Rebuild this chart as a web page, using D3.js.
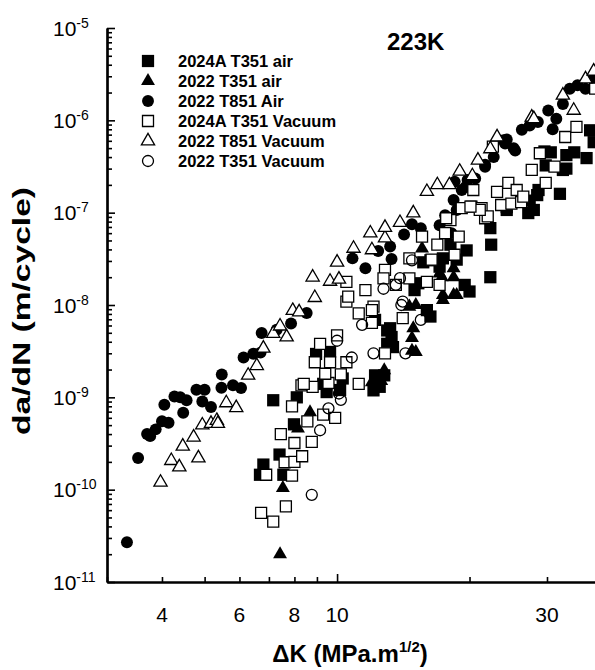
<!DOCTYPE html>
<html><head><meta charset="utf-8">
<script src="https://cdn.jsdelivr.net/npm/d3@7"></script>
<style>
html,body{margin:0;padding:0;background:#fff;}
svg{display:block;font-family:"Liberation Sans",Arial,sans-serif;}
</style></head>
<body>
<svg id="chart" width="595" height="670"></svg>
<script>
// ---- data: [ΔK (MPa.m^1/2), da/dN (m/cycle)] ----
const air2024T351 = [
 [7.16,9.3e-10],[8.1,1.0e-9],[7.98,5.1e-10],[6.8,1.87e-10],[6.68,1.45e-10],[7.4,2.4e-10],[7.55,1.45e-10],
 [8.96,2.95e-9],[9.64,3.1e-9],[9.3,1.4e-9],[9.47,1.14e-9],[10.3,1.6e-9],[10.16,1.2e-9],[12.2,1.73e-9],
 [12.1,1.19e-9],[12.8,1.73e-9],[12.5,1.3e-9],[13.0,5.3e-9],[13.0,3.8e-9],[13.2,5.6e-9],[13.3,4.5e-9],[13.4,3.5e-9],
 [12.2,6.9e-9],[16.0,8.8e-9],[16.3,7.5e-9],[15.0,1.45e-8],[15.3,1.72e-8],[16.3,3.05e-8],[17.1,2.6e-8],
 [17.4,3.2e-8],[15.7,2.9e-8],[18.1,4.5e-8],[18.7,3.1e-8],[19.7,3.9e-8],[19.5,1.65e-8],[20.0,1.4e-8],
 [22.4,4.5e-8],[22.3,2.0e-8],[22.3,6.8e-8],[24.3,1.07e-7],[28.0,1.07e-7],[27.2,9.9e-8],[28.5,1.55e-7],
 [32.1,1.6e-7],[30.6,4.5e-7],[29.6,4.6e-7],[29.8,3.25e-7],[33.2,4.2e-7],[34.6,4.5e-7],[36.9,3.9e-7],
 [33.2,3.0e-7],[37.6,7.8e-7],[38.3,5.8e-7],[32.6,2.9e-7],[28.7,1.76e-7],[27.4,1.35e-7],[24.3,1.15e-7]
];
const air2022T351 = [
 [7.42,2.0e-11],[7.53,1.04e-10],[8.68,6.9e-10],[8.15,4.6e-10],[12.0,1.46e-9],[12.6,1.5e-9],[12.8,1.96e-9],
 [12.2,1.5e-9],[14.9,5.6e-9],[14.8,4.4e-9],[14.8,3.2e-9],[15.1,3.1e-9],[14.6,9.6e-9],[15.1,1.0e-8],
 [17.4,1.13e-8],[18.4,1.28e-8],[18.4,2.0e-8],[18.4,2.5e-8],[15.6,4.1e-8],[17.1,2.2e-8],[17.3,2.0e-8],
 [17.4,1.28e-8],[18.7,1.28e-8]
];
const air2022T851 = [
 [3.33,2.7e-11],[3.53,2.2e-10],[3.70,4.0e-10],[3.76,3.8e-10],[3.87,4.5e-10],[4.0,5.5e-10],[4.14,5.3e-10],
 [4.05,8.3e-10],[4.27,1.02e-9],[4.40,1.0e-9],[4.55,9.3e-10],[4.47,6.8e-10],[4.79,1.21e-9],[5.0,1.21e-9],
 [4.94,9.0e-10],[5.17,7.85e-10],[5.47,1.77e-9],[5.46,1.27e-9],[5.80,1.35e-9],[6.05,1.26e-9],[6.13,2.7e-9],
 [6.45,2.97e-9],[6.7,3.05e-9],[6.74,4.97e-9],[7.29,5.4e-9],[7.86,6.3e-9],[8.53,8.2e-9],[10.84,3.2e-8],
 [11.6,2.5e-8],[12.4,3.85e-8],[13.2,4.3e-8],[13.3,3.15e-8],[14.2,5.8e-8],[14.8,7.5e-8],[15.5,6.8e-8],
 [17.1,7.3e-8],[18.2,6.0e-8],[17.6,9.4e-8],[18.4,1.37e-7],[18.7,1.07e-7],[19.2,1.76e-7],[18.5,2.17e-7],
 [19.8,2.26e-7],[19.6,1.9e-7],[20.6,2.35e-7],[21.7,3.3e-7],[21.7,3.15e-7],[22.7,4.0e-7],[23.9,6.1e-7],
 [24.3,6.2e-7],[24.1,5.6e-7],[25.2,5.0e-7],[25.4,4.7e-7],[26.3,7.9e-7],[27.4,8.8e-7],[28.6,9.6e-7],
 [30.2,1.28e-6],[31.5,1.04e-6],[30.9,8.0e-7],[32.6,1.5e-6],[33.8,2.2e-6],[35.2,2.4e-6],[36.7,2.2e-6],
 [38.3,2.8e-6]
];
const vac2024T351 = [
 [6.72,5.6e-11],[7.16,4.5e-11],[7.65,6.6e-11],[6.9,1.45e-10],[7.9,1.42e-10],[7.6,1.98e-10],[8.0,2.0e-10],
 [8.33,2.3e-10],[8.0,3.2e-10],[8.76,3.3e-10],[7.45,4.0e-10],[7.9,8.0e-10],[8.56,5.5e-10],[9.3,6.5e-10],
 [9.9,6.0e-10],[8.3,1.35e-9],[8.8,1.3e-9],[9.56,1.43e-9],[8.9,2.4e-9],[9.64,2.4e-9],[9.15,3.8e-9],
 [10.0,4.7e-9],[10.2,1.77e-9],[11.2,1.4e-9],[10.5,2.4e-9],[12.85,3.0e-9],[12.1,9.6e-9],[12.0,6.4e-9],
 [11.2,8.1e-9],[10.5,1.09e-8],[9.4,1.8e-9],[14.1,7.2e-9],[12.0,8.8e-9],[10.6,1.23e-8],[10.5,1.78e-8],
 [11.6,1.45e-8],[12.85,2.4e-8],[12.75,1.94e-8],[13.6,1.65e-8],[14.6,1.94e-8],[16.0,1.78e-8],[17.1,1.65e-8],
 [14.6,3.2e-8],[16.4,3.1e-8],[16.9,4.5e-8],[15.6,5.5e-8],[17.6,6.0e-8],[18.9,5.5e-8],[18.5,3.5e-8],
 [18.1,8.3e-8],[20.2,1.16e-7],[21.7,8.7e-8],[23.6,1.21e-7],[24.9,1.25e-7],[26.2,1.3e-7],[17.7,8.7e-8],
 [20.4,1.76e-7],[21.3,1.12e-7],[22.0,9.1e-8],[23.1,1.68e-7],[24.5,2.1e-7],[25.6,1.76e-7],[26.5,1.49e-7],
 [27.7,2.9e-7],[28.9,4.4e-7],[31.2,3.15e-7],[29.8,2.1e-7],[33.0,6.6e-7],[35.0,8.5e-7],[22.6,5.2e-7],
 [38.6,2.2e-6],[19.2,1.12e-7],[21.1,1.07e-7],[20.1,1.16e-7],[8.4,1.4e-9]
];
const vac2022T851 = [
 [3.97,1.2e-10],[4.2,2.06e-10],[4.38,1.76e-10],[4.46,2.95e-10],[4.84,2.2e-10],[4.72,3.7e-10],[4.94,5.0e-10],
 [5.17,5.2e-10],[5.33,5.6e-10],[5.36,5.2e-10],[5.6,8.7e-10],[5.9,7.7e-10],[6.28,1.73e-9],[6.57,2.2e-9],
 [6.8,3.4e-9],[7.16,4.9e-9],[7.42,5.9e-9],[7.68,4.5e-9],[7.93,8.7e-9],[8.2,8.4e-9],[8.8,2.0e-8],
 [8.9,1.2e-8],[9.64,1.8e-8],[10.1,1.9e-8],[10.0,2.9e-8],[10.9,4.1e-8],[12.0,3.95e-8],[11.9,6.0e-8],
 [12.85,5.3e-8],[12.85,6.9e-8],[13.9,7.8e-8],[14.9,9.9e-8],[16.0,1.69e-7],[16.9,2.0e-7],[18.0,2.0e-7],
 [19.0,2.8e-7],[20.3,2.5e-7],[20.9,3.7e-7],[23.1,6.6e-7],[22.3,4.9e-7],[27.7,1.08e-6],[28.0,1.04e-6],
 [32.6,1.87e-6],[34.5,1.28e-6],[36.7,2.8e-6],[38.3,3.4e-6]
];
const vac2022T351 = [
 [8.76,8.8e-11],[9.15,4.4e-10],[9.56,7.6e-10],[10.0,4.1e-9],[10.1,1.1e-9],[10.2,9.4e-10],[10.8,2.7e-9],
 [12.1,3.0e-9],[11.4,6.1e-9],[12.75,1.5e-8],[13.9,1.95e-8],[13.6,1.65e-8],[14.1,1.09e-8],[14.8,3.05e-8],
 [15.5,6.9e-9],[14.3,3.0e-9],[14.0,1.0e-8]
];
const seriesNames = ["2024A T351 air","2022 T351 air","2022 T851 Air","2024A T351 Vacuum","2022 T851 Vacuum","2022 T351 Vacuum"];
const xTickLabels = [4,6,8,10,30];
const yTickExps = [-11,-10,-9,-8,-7,-6,-5];
const title = "223K";

// ---- chart ----
const svg = d3.select("#chart");
const x = d3.scaleLog().domain([3,40]).range([107, 107 + 440*Math.log10(40/3)]);
const y = d3.scaleLog().domain([1e-11,1e-5]).range([582,28]);

const series = [
 {name:seriesNames[0], data:air2024T351, type:d3.symbolSquare, size:150, fill:"#000", stroke:"none"},
 {name:seriesNames[1], data:air2022T351, type:d3.symbolTriangle, size:84, fill:"#000", stroke:"none"},
 {name:seriesNames[2], data:air2022T851, type:d3.symbolCircle, size:112, fill:"#000", stroke:"none"},
 {name:seriesNames[3], data:vac2024T351, type:d3.symbolSquare, size:121, fill:"#fff", stroke:"#000"},
 {name:seriesNames[4], data:vac2022T851, type:d3.symbolTriangle, size:76, fill:"#fff", stroke:"#000"},
 {name:seriesNames[5], data:vac2022T351, type:d3.symbolCircle, size:95, fill:"none", stroke:"#000"}
];

const plot = svg.append("g");
series.forEach(s=>{
  const sym = d3.symbol().type(s.type).size(s.size);
  plot.append("g").selectAll("path").data(s.data).join("path")
    .attr("d", sym)
    .attr("transform", d=>`translate(${x(d[0])},${y(d[1])})`)
    .attr("fill", s.fill).attr("stroke", s.stroke).attr("stroke-width", 1.3);
});

// axes
const yMinor = [];
for (let e=-11;e<-5;e++) for (let m=2;m<=9;m++) yMinor.push(m*Math.pow(10,e));
const yMajor = yTickExps.map(e=>Math.pow(10,e));
const xMinor = [3,4,5,6,7,8,9,20,30,40];
const xMajor = [10];

function styleAxis(g){ g.selectAll(".domain").attr("stroke","#000").attr("stroke-width",2.2);
  g.selectAll(".tick line").attr("stroke","#000").attr("stroke-width",1.6); }

svg.append("g").attr("transform","translate(107,0)")
  .call(d3.axisLeft(y).tickValues(yMinor).tickSize(-5).tickSizeOuter(0).tickFormat(""))
  .call(styleAxis);
svg.append("g").attr("transform","translate(107,0)")
  .call(d3.axisLeft(y).tickValues(yMajor).tickSize(-8).tickSizeOuter(0).tickFormat(""))
  .call(styleAxis);
svg.append("g").attr("transform","translate(0,582)")
  .call(d3.axisBottom(x).tickValues(xMinor).tickSize(-5).tickSizeOuter(0).tickFormat(""))
  .call(styleAxis);
svg.append("g").attr("transform","translate(0,582)")
  .call(d3.axisBottom(x).tickValues(xMajor).tickSize(-8).tickSizeOuter(0).tickFormat(""))
  .call(styleAxis);

// y tick labels
yTickExps.forEach(e=>{
  const t = svg.append("text").attr("x",53).attr("y",y(Math.pow(10,e))+7.5)
    .attr("font-size",21).attr("fill","#000");
  t.append("tspan").text("10");
  t.append("tspan").attr("font-size",14).attr("dy",-8).text("-"+Math.abs(e));
});
// x tick labels
xTickLabels.forEach(v=>{
  svg.append("text").attr("x",x(v)).attr("y",622).attr("text-anchor","middle")
    .attr("font-size",21).attr("fill","#000").text(v);
});

// axis titles
const xt = svg.append("text").attr("x",350).attr("y",662).attr("text-anchor","middle")
  .attr("font-size",24).attr("font-weight","bold");
xt.append("tspan").text("\u0394K (MPa.m");
xt.append("tspan").attr("font-size",15).attr("dy",-10).text("1/2");
xt.append("tspan").attr("dy",10).text(")");

svg.append("text").attr("transform","translate(30,311) rotate(-90)").attr("text-anchor","middle")
  .attr("font-size",23).attr("font-weight","bold")
  .attr("textLength",248).attr("lengthAdjust","spacingAndGlyphs")
  .text("da/dN (m/cycle)");

// title
svg.append("text").attr("x",387).attr("y",50).attr("font-size",24).attr("font-weight","bold").text(title);

// legend
series.forEach((s,i)=>{
  const cy = 61 + i*20;
  const sym = d3.symbol().type(s.type).size(s.size);
  svg.append("path").attr("d",sym).attr("transform",`translate(148,${cy})`)
    .attr("fill",s.fill).attr("stroke",s.stroke).attr("stroke-width",1.3);
  svg.append("text").attr("x",178).attr("y",cy+6).attr("font-size",16.5).attr("font-weight","bold").text(s.name);
});
</script>
</body></html>
